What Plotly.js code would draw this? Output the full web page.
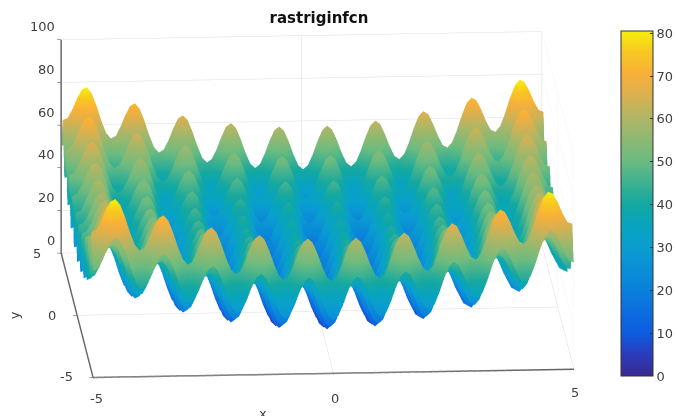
<!DOCTYPE html>
<html><head><meta charset="utf-8">
<script src="https://cdn.plot.ly/plotly-3.0.1.min.js"></script>
<style>html,body{margin:0;padding:0;background:#fff}</style></head>
<body><div id="chart" style="width:677px;height:416px"></div>
<script>
// Rastrigin one-axis profile at 0.1 steps for |x| = 0 .. 5 (surface height is profile(x) + profile(y))
const profile = [0,1.92,6.95,13.18,18.25,20.25,18.45,13.58,7.55,2.72,
 1,3.12,8.35,14.78,20.05,22.25,20.65,15.98,10.15,5.52,
 4,6.32,11.75,18.38,23.85,26.25,24.85,20.38,14.75,10.32,
 9,11.52,17.15,23.98,29.65,32.25,31.05,26.78,21.35,17.12,
 16,18.72,24.55,31.58,37.45,40.25,39.25,35.18,29.95,25.92,25];
const axisTicks = [-5,0,5];
const zTicks = [0,20,40,60,80,100];
const barTicks = [0,10,20,30,40,50,60,70,80];
const colorStops = [[0,'#3a2a90'],[0.0625,'#2a3cbc'],[0.125,'#0e5ce0'],[0.25,'#0a80dc'],[0.375,'#0a9ed0'],
  [0.44,'#08a4bc'],[0.5,'#14a8a0'],[0.625,'#6cbb80'],[0.75,'#b0b665'],[0.81,'#d8b050'],[0.875,'#f8b03a'],
  [0.94,'#f8c822'],[1,'#f6ee0c']];

const half = profile.length - 1;
const coords = [], heights = [];
for (let i = -half; i <= half; i++) coords.push(i / 10);
for (let j = -half; j <= half; j++) {
  const row = [];
  for (let i = -half; i <= half; i++) row.push(profile[Math.abs(i)] + profile[Math.abs(j)]);
  heights.push(row);
}
const txt = '#404040';
const family = 'DejaVu Sans';
const ax = (vals, range) => ({
  title: {text: ''}, range, tickvals: vals, showticklabels: false, ticks: 'outside', ticklen: 4,
  tickcolor: '#444', showline: true, linecolor: '#666', linewidth: 3, showgrid: true, gridcolor: '#dcdcdc',
  showbackground: false, zeroline: false, showspikes: false, mirror: false
});
const label = (x, y, z, text, xshift, yshift, extra) => Object.assign({
  x, y, z, text: String(text), showarrow: false, xshift, yshift,
  xanchor: 'center', yanchor: 'middle', font: {size: 13, color: txt, family}
}, extra || {});
const annotations = [
  ...zTicks.map(v => label(-5, 5, v, v, -4, 13, {xanchor: 'right'})),
  label(-5, 5, 0, 5, -24, 0), label(-5, 0, 0, 0, -25, 0), label(-5, -5, 0, -5, -27, 1),
  label(-5, -5, 0, -5, 3, -21), label(0, -5, 0, 0, 2, -25), label(5, -5, 0, 5, 2, -23),
  label(0, -5, 0, 'x', -70, -40),
  label(-5, 0, 0, 'y', -63, 0, {textangle: -90})
];
const a = 3.8 * Math.PI / 180, e = 15 * Math.PI / 180, r = 3;
Plotly.newPlot('chart', [{
  type: 'surface', x: coords, y: coords, z: heights,
  cmin: 0, cmax: 80.5,
  colorscale: colorStops,
  lighting: {ambient: 1, diffuse: 0, specular: 0, roughness: 1, fresnel: 0},
  hoverinfo: 'skip',
  colorbar: {
    x: 623 / 677, xanchor: 'left', xpad: 0, ypad: 0, thickness: 32, thicknessmode: 'pixels',
    len: 345, lenmode: 'pixels', y: 1 - 31 / 416, yanchor: 'top',
    tickvals: barTicks, ticks: 'inside', ticklen: 3, tickcolor: '#333', tickprefix: '\u00a0\u00a0\u00a0',
    tickfont: {size: 13, color: txt, family},
    outlinecolor: '#333', outlinewidth: 1, borderwidth: 0
  }
}], {
  width: 677, height: 416, margin: {l: 0, r: 0, t: 0, b: 0}, paper_bgcolor: '#fff',
  title: {text: '<b>rastriginfcn</b>', x: 319 / 677, xanchor: 'center', y: 1 - 18 / 416, yanchor: 'middle',
          font: {size: 15, color: '#111', family}},
  scene: {
    domain: {x: [0, 0.94], y: [0.017, 1]},
    aspectmode: 'manual', aspectratio: {x: 2.356, y: 2.356, z: 1.08},
    camera: {projection: {type: 'orthographic'},
      up: {x: 0, y: 0, z: 1}, center: {x: 0, y: 0, z: 0},
      eye: {x: -Math.sin(a) * Math.cos(e) * r, y: -Math.cos(a) * Math.cos(e) * r, z: Math.sin(e) * r}},
    xaxis: ax(axisTicks, [-5, 5]),
    yaxis: ax(axisTicks, [-5, 5]),
    zaxis: ax(zTicks, [0, 100]),
    annotations
  }
}, {displayModeBar: false});
</script></body></html>
